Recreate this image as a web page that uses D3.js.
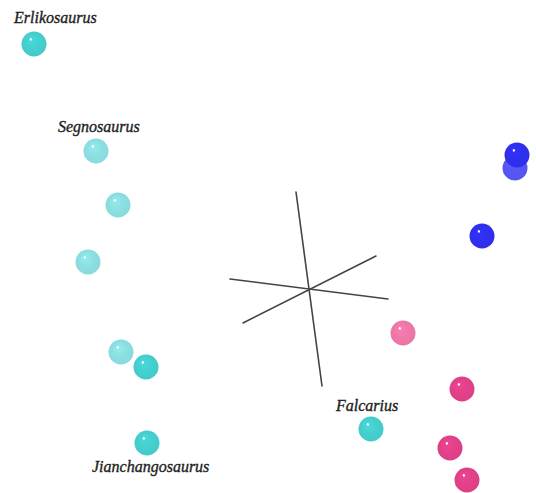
<!DOCTYPE html>
<html>
<head>
<meta charset="utf-8">
<script src="https://cdn.jsdelivr.net/npm/d3@7"></script>
<style>
  html, body { margin: 0; padding: 0; background: #fff; }
  svg { display: block; }
  .lbl { font-family: "Liberation Serif", "DejaVu Serif", serif; font-style: italic; font-size: 16px; fill: #1e1e1e; stroke: #1e1e1e; stroke-width: 0.35px; }
</style>
</head>
<body>
<script>
// Taxa and their projected ordination scores (first two components)
const taxa = ["Erlikosaurus", "Segnosaurus", "S2", "S3", "S4", "S5", "Jianchangosaurus",
              "Falcarius", "P1", "P2", "P3", "P4", "B1", "B2", "B3"];
const scoreX = [-2.76, -2.14, -1.92, -2.22, -1.89, -1.64, -1.63,
                0.61, 0.93, 1.52, 1.40, 1.57, 2.05, 2.07, 1.72];
const scoreY = [2.45, 1.38, 0.84, 0.27, -0.63, -0.78, -1.54,
                -1.40, -0.44, -1.00, -1.59, -1.91, 1.21, 1.34, 0.53];
// Group of each taxon (sets the sphere colour)
const groups = ["teal", "pale", "pale", "pale", "pale", "teal", "teal",
                "teal", "rose", "pink", "pink", "pink", "blueBack", "blue", "blue"];
const labelled = ["Erlikosaurus", "Segnosaurus", "Jianchangosaurus", "Falcarius"];

// Projected 3D axis directions (end points of each axis through the origin)
const axisNames = ["PC1", "PC2", "PC3"];
const axisFrom = [[-0.14, 0.97], [-0.80, 0.10], [-0.67, -0.34]];
const axisTo = [[0.12, -0.97], [0.78, -0.10], [0.66, 0.33]];

const W = 536, H = 493;
const x = d3.scaleLinear().domain([-3.10, 2.26]).range([0, W]);
const y = d3.scaleLinear().domain([-2.04, 2.89]).range([H, 0]);

const palette = {
  teal: "#45cfcf",
  pale: "#8cdfe1",
  rose: "#ef78a9",
  pink: "#e2418a",
  blue: "#2f2ff0",
  blueBack: "#5656f4"
};

const labelOffset = {
  "Erlikosaurus": [-20, -21],
  "Segnosaurus": [-38, -19],
  "Jianchangosaurus": [-55, 29],
  "Falcarius": [-35, -18]
};

const svg = d3.select("body").append("svg").attr("width", W).attr("height", H);
const defs = svg.append("defs");

Object.entries(palette).forEach(([k, c]) => {
  const g = defs.append("radialGradient").attr("id", "sph-" + k)
    .attr("cx", "50%").attr("cy", "50%").attr("r", "52%")
    .attr("fx", "36%").attr("fy", "30%");
  const base = d3.color(c);
  g.append("stop").attr("offset", "0%").attr("stop-color", "#ffffff");
  g.append("stop").attr("offset", "6%").attr("stop-color", "#ffffff");
  g.append("stop").attr("offset", "12%").attr("stop-color", base.brighter(0.12).formatHex());
  g.append("stop").attr("offset", "60%").attr("stop-color", c);
  g.append("stop").attr("offset", "100%").attr("stop-color", base.darker(0.08).formatHex());
});

// Axes
svg.append("g").selectAll("line").data(axisNames).join("line")
  .attr("x1", (d, i) => x(axisFrom[i][0]))
  .attr("y1", (d, i) => y(axisFrom[i][1]))
  .attr("x2", (d, i) => x(axisTo[i][0]))
  .attr("y2", (d, i) => y(axisTo[i][1]))
  .attr("stroke", "#444")
  .attr("stroke-width", 1.6)
  .attr("stroke-linecap", "round");

// Spheres
const pts = taxa.map((t, i) => ({ t, x: scoreX[i], y: scoreY[i], g: groups[i] }));
svg.append("g").selectAll("circle").data(pts).join("circle")
  .attr("cx", d => x(d.x))
  .attr("cy", d => y(d.y))
  .attr("r", 12.5)
  .attr("fill", d => `url(#sph-${d.g})`);

// Labels
svg.append("g").selectAll("text").data(pts.filter(d => labelled.includes(d.t))).join("text")
  .attr("class", "lbl")
  .attr("x", d => x(d.x) + labelOffset[d.t][0])
  .attr("y", d => y(d.y) + labelOffset[d.t][1])
  .text(d => d.t);
</script>
</body>
</html>
